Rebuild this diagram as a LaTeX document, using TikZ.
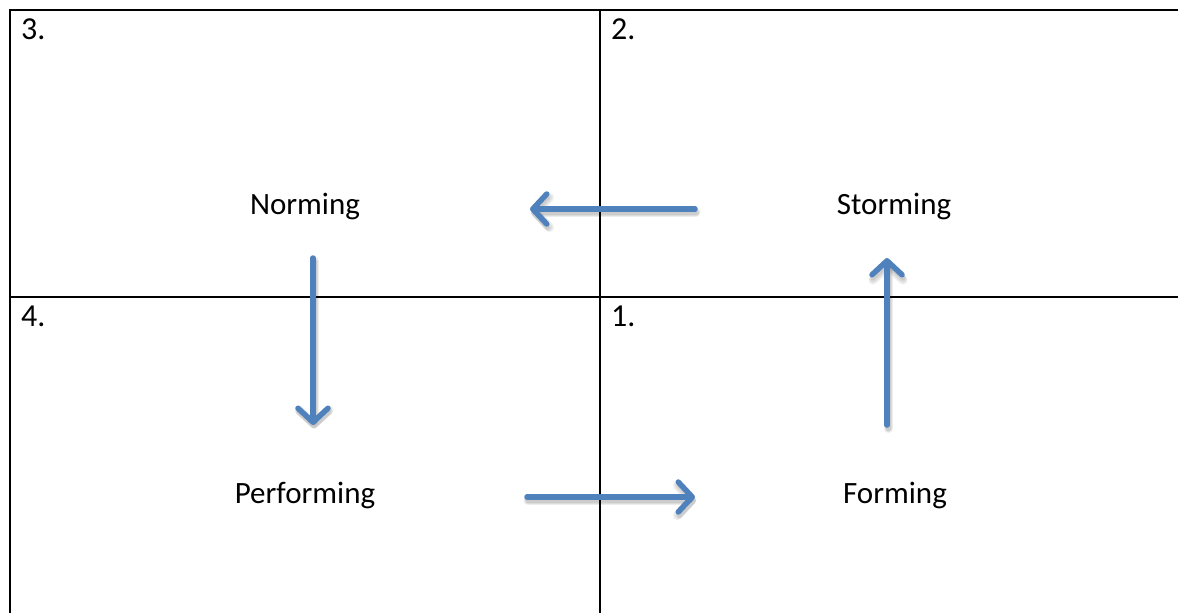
\documentclass[tikz,border=0pt]{standalone}
\usepackage{fontspec}
\setmainfont{Carlito}
\usetikzlibrary{arrows.meta}
\definecolor{arrowblue}{RGB}{79,129,189}
\tikzset{
  gridline/.style={line width=2pt, black},
  label/.style={inner sep=0pt, anchor=base, font=\fontsize{31}{37}\selectfont},
  numlabel/.style={inner sep=0pt, anchor=base west, font=\fontsize{32}{38}\selectfont},
  flowarrow/.style={line width=5.5pt, arrowblue, line cap=round,
    -{Straight Barb[length=14pt,width=30pt,round]}},
  flowshadow/.style={line width=#1, black, opacity=0.07, line cap=round,
    -{Straight Barb[length=14pt,width=30pt,round]}, transform canvas={shift={(1pt,-3.5pt)}}}
}
\newcommand{\shadowed}[2]{%
  \draw[flowshadow=9pt] (#1) -- (#2);
  \draw[flowshadow=7pt] (#1) -- (#2);
  \draw[flowshadow=5pt] (#1) -- (#2);
  \draw[flowarrow] (#1) -- (#2);}
\begin{document}
\begin{tikzpicture}[x=1pt,y=-1pt]
\useasboundingbox (0,0) rectangle (1178,613);
% grid
\draw[gridline] (1178,9.5) -- (10,9.5) -- (10,613);
\draw[gridline] (600,9.5) -- (600,613);
\draw[gridline] (10,296.7) -- (1178,296.7);
% numbers
\node[numlabel] (n3) at (21,39) {3.};
\node[numlabel] (n2) at (611,39) {2.};
\node[numlabel] (n4) at (21,326) {4.};
\node[numlabel] (n1) at (611,326) {1.};
% words
\node[label] (norming) at (305,214) {Norming};
\node[label] (storming) at (894,214) {Storming};
\node[label] (performing) at (305,503) {Performing};
\node[label] (forming) at (895,503) {Forming};
% arrow ends
\coordinate (sA) at (695,209); \coordinate (eA) at (530,209);
\coordinate (sB) at (313,258); \coordinate (eB) at (313,425);
\coordinate (sC) at (527,497); \coordinate (eC) at (695,497);
\coordinate (sD) at (887,425); \coordinate (eD) at (887,258);
% arrows
\shadowed{sA}{eA}
\shadowed{sB}{eB}
\shadowed{sC}{eC}
\shadowed{sD}{eD}
\end{tikzpicture}
\end{document}
